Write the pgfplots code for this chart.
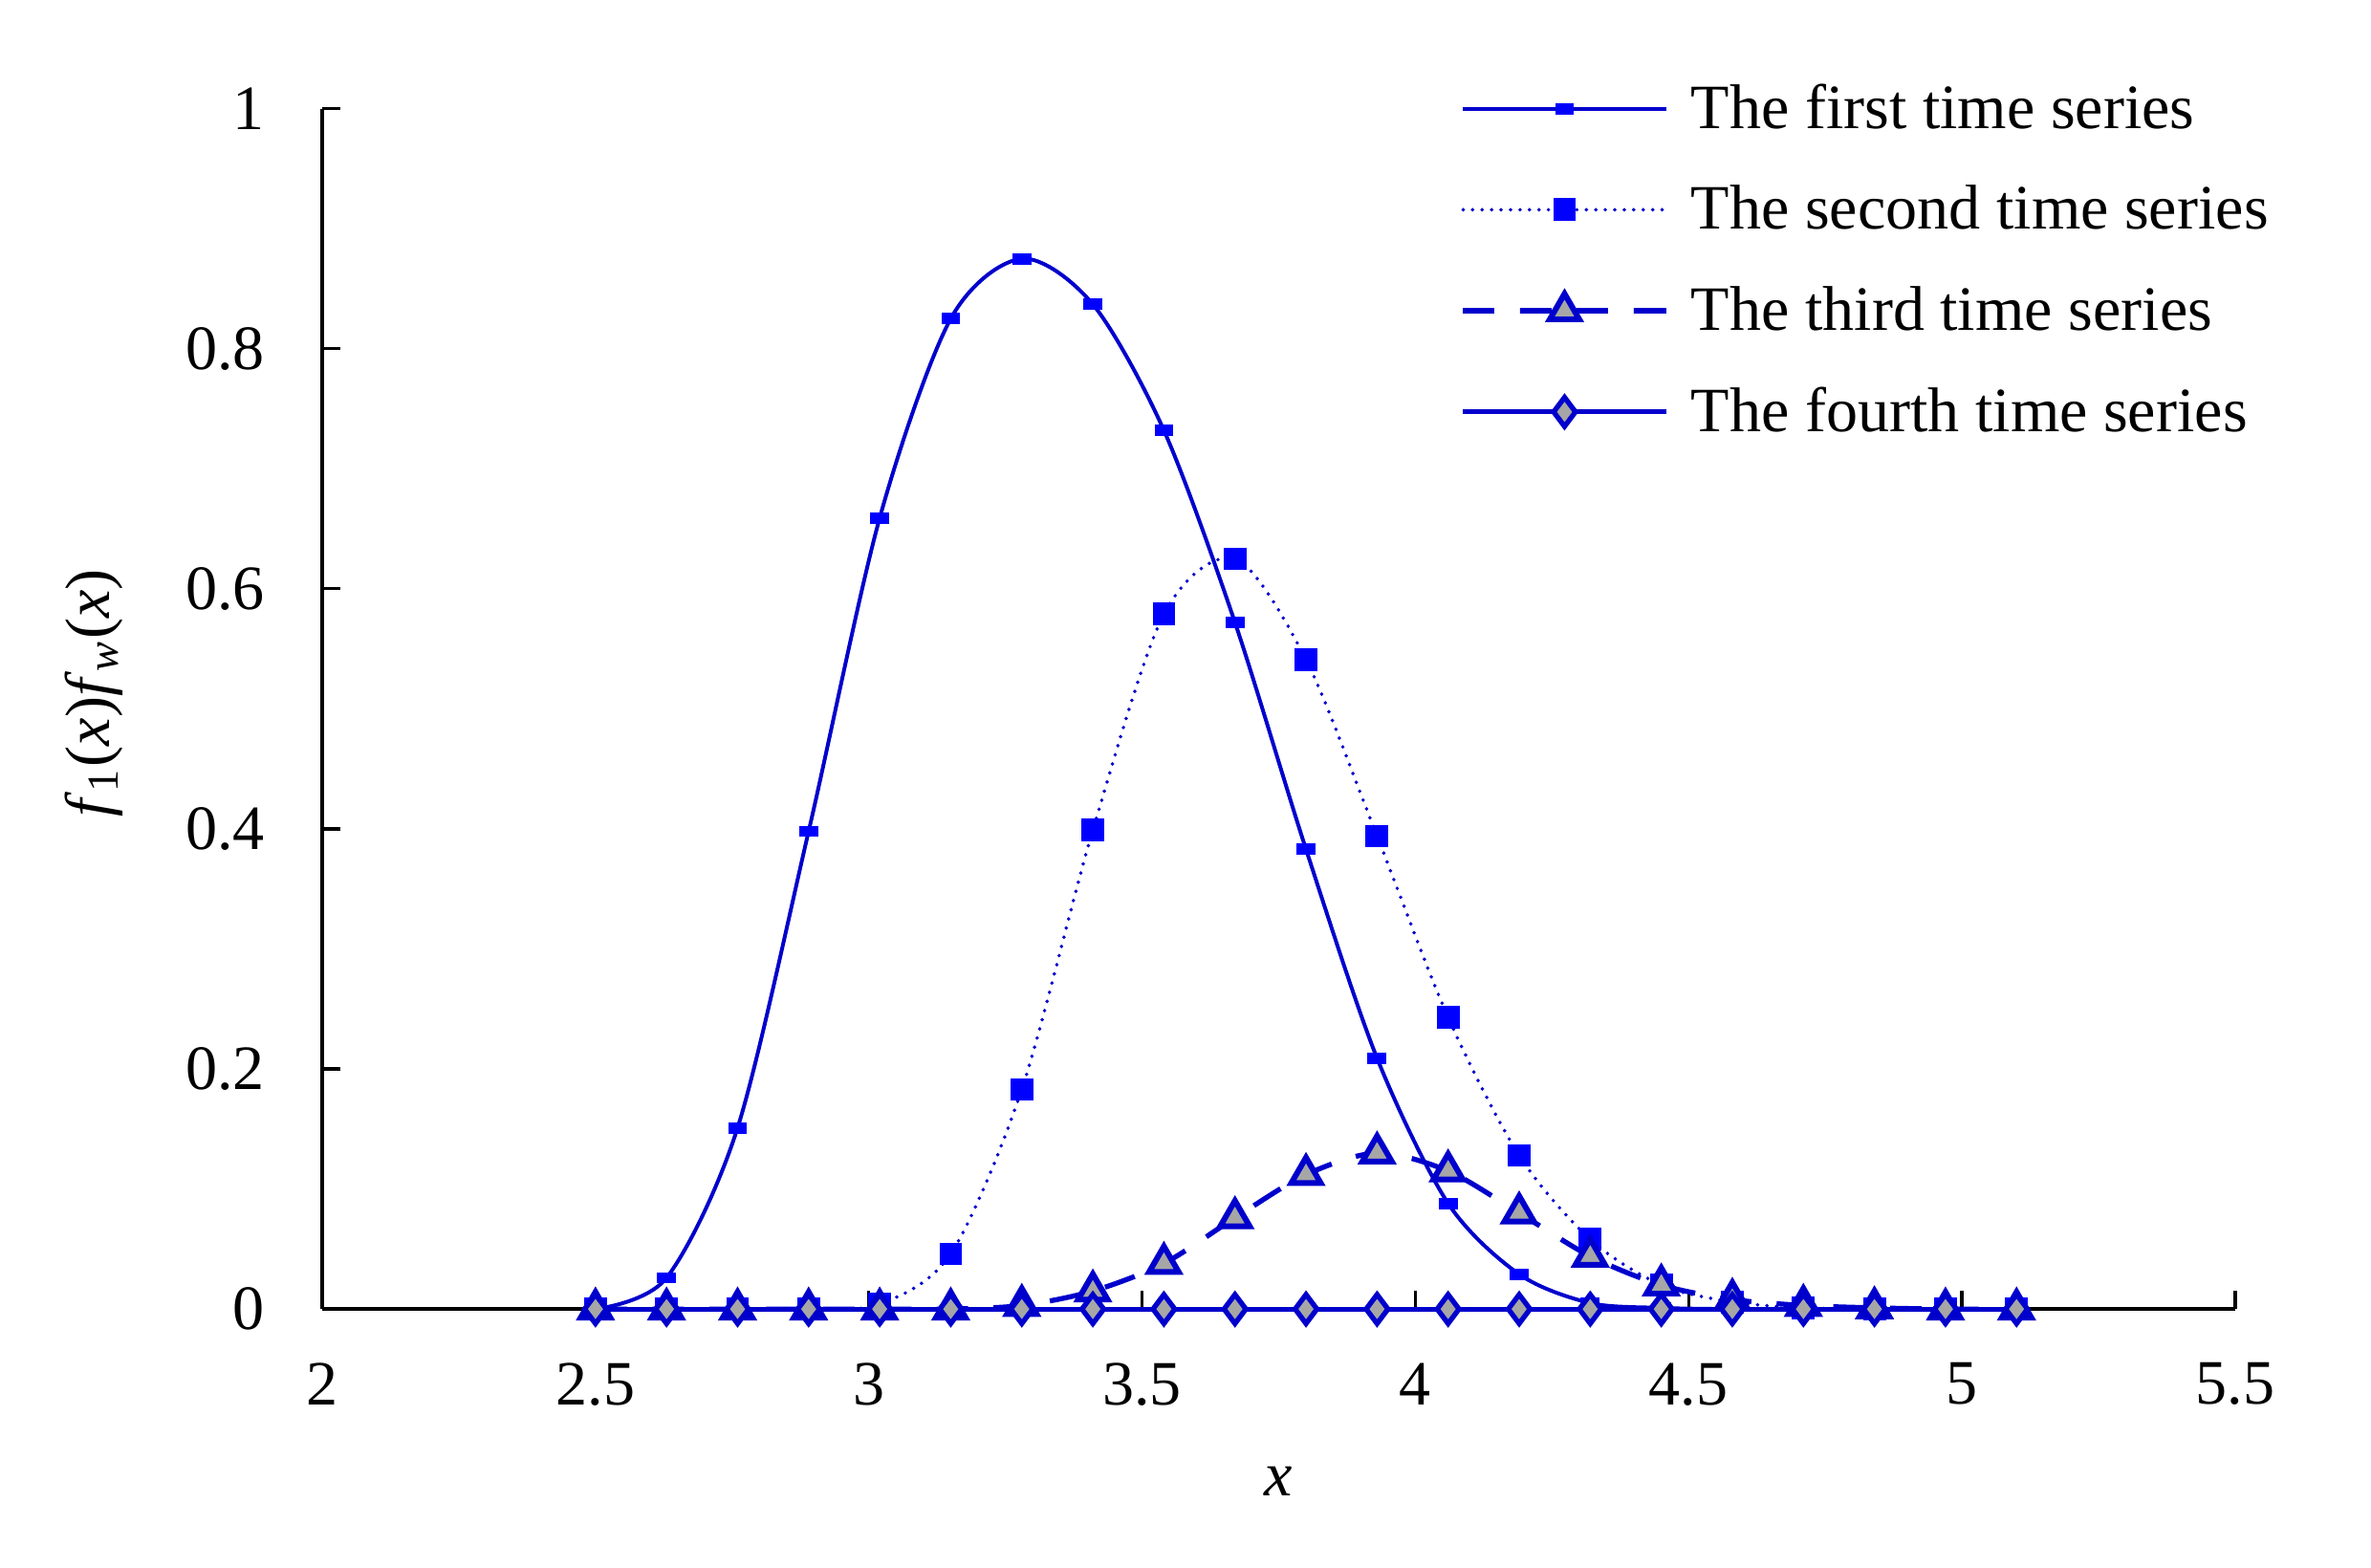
\documentclass[border=0pt]{standalone}
\usepackage{pgfplots}
\usepackage{pgfplotstable}
\pgfplotsset{compat=1.18}
\usepackage{fontspec}
\setmainfont{Liberation Serif}
\definecolor{lineblue}{RGB}{0,0,204}
\definecolor{markblue}{RGB}{0,0,255}
\definecolor{markgray}{RGB}{166,166,166}

\pgfplotstableread{
x     s1     s2     s3     s4
2.50  0.000  0.000  0.000  0
2.63  0.026  0.000  0.000  0
2.76  0.151  0.000  0.000  0
2.89  0.398  0.000  0.000  0
3.02  0.659  0.004  0.000  0
3.15  0.825  0.046  0.000  0
3.28  0.875  0.183  0.003  0
3.41  0.837  0.399  0.015  0
3.54  0.732  0.579  0.038  0
3.67  0.572  0.625  0.076  0
3.80  0.383  0.541  0.112  0
3.93  0.209  0.394  0.130  0
4.06  0.088  0.243  0.115  0
4.19  0.029  0.128  0.080  0
4.32  0.005  0.058  0.044  0
4.45  0.001  0.020  0.020  0
4.58  0.000  0.006  0.008  0
4.71  0.000  0.001  0.003  0
4.84  0.000  0.000  0.001  0
4.97  0.000  0.000  0.000  0
5.10  0.000  0.000  0.000  0
}\datatable

\begin{document}
\begin{tikzpicture}
\begin{axis}[
  scale only axis, width=302.8pt, height=190pt,
  xmin=2, xmax=5.5, ymin=0, ymax=1,
  axis x line*=bottom, axis y line*=left,
  xtick={2,2.5,3,3.5,4,4.5,5,5.5},
  ytick={0,0.2,0.4,0.6,0.8,1},
  tick align=inside, major tick length=2.9pt,
  axis line style={line width=0.6pt, black},
  tick style={line width=0.5pt, black},
  /pgf/number format/assume math mode=true,
  xticklabel style={yshift=-5pt},
  yticklabel style={xshift=-5.6pt},
  xlabel={\textit{x}},
  xlabel style={at={(rel axis cs:0.5,0)}, anchor=center, yshift=-27.2pt},
  ylabel={\textit{f}\textsubscript{1}(\textit{x})\textit{f}\textsubscript{\textit{w}}(\textit{x})},
  ylabel style={at={(rel axis cs:0,0.5)}, anchor=center, rotate=0, xshift=2.5pt, yshift=36.2pt},
  clip=false,
  legend cell align=left,
  legend image code/.code={\draw[mark repeat=2,mark phase=2,#1] plot coordinates {(0pt,0pt) (16.05pt,0pt) (32.1pt,0pt)};},
  legend style={at={(rel axis cs:0,1)}, anchor=north west, xshift=180.2pt, yshift=4.5pt,
    draw=none, fill=none, inner sep=0pt, outer sep=0pt, row sep=7pt,
    nodes={inner sep=0pt, text height=7.6pt, text depth=1.4pt},
    /tikz/every odd column/.append style={column sep=3.6pt}},
]
\addplot[lineblue, line width=0.6pt, smooth, tension=0.5, mark=square*, mark size=0.6pt,
  mark options={xscale=2, draw=markblue, fill=markblue, solid}]
  table[x=x, y=s1] {\datatable};
\addlegendentry{The first time series}
\addplot[lineblue, line width=0.6pt, line cap=round, dash pattern=on 0pt off 1.5pt, smooth, tension=0.5,
  mark=square*, mark size=1.5pt,
  mark options={draw=markblue, fill=markblue, solid, line cap=butt}]
  table[x=x, y=s2] {\datatable};
\addlegendentry{The second time series}
\addplot[lineblue, line width=0.8pt, dash pattern=on 5pt off 4pt, smooth, tension=0.5,
  mark=triangle*, mark size=2.7pt,
  mark options={draw=lineblue, fill=markgray, solid, line width=0.9pt}]
  table[x=x, y=s3] {\datatable};
\addlegendentry{The third time series}
\addplot[lineblue, line width=0.8pt, smooth, tension=0.5,
  mark=diamond*, mark size=2.3pt,
  mark options={draw=lineblue, fill=markgray, solid, line width=0.8pt}]
  table[x=x, y=s4] {\datatable};
\addlegendentry{The fourth time series}
\end{axis}
\pgfresetboundingbox
\useasboundingbox ([xshift=-51pt,yshift=-40.9pt]current axis.south west) rectangle ([xshift=21.5pt,yshift=17.2pt]current axis.north east);
\end{tikzpicture}
\end{document}
